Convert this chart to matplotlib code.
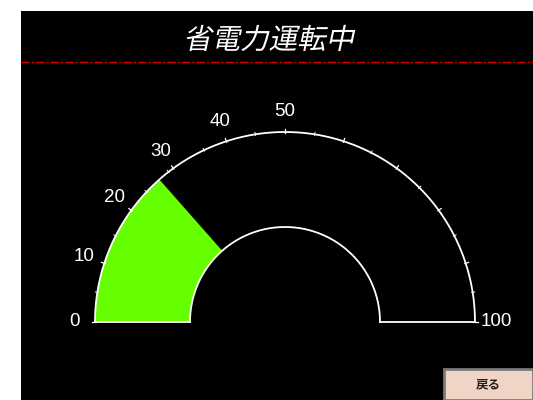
# 省電力運転中 gauge panel

import numpy as np
import matplotlib
matplotlib.use('Agg')
import matplotlib.pyplot as plt
from matplotlib.patches import Wedge, Rectangle, PathPatch
from matplotlib.textpath import TextPath
from matplotlib.font_manager import FontProperties
from matplotlib.transforms import Affine2D

plt.rcParams['font.family'] = ['Noto Sans CJK JP', 'DejaVu Sans']

title = '省電力運転中'
button_text = '戻る'
gauge_min = 0
gauge_max = 100
gauge_value = 27
label_values = [0, 10, 20, 30, 40, 50, 100]
major_ticks = [0, 10, 20, 30, 40, 50, 60, 70, 80, 90, 100]
minor_ticks = [5, 15, 24, 29, 36, 45, 55, 65, 75, 85, 95]

W, H = 533, 400
fig = plt.figure(figsize=(W / 100, H / 100), dpi=100)
fig.patch.set_facecolor('white')
ax = fig.add_axes([0, 0, 1, 1])
ax.set_xlim(0, W)
ax.set_ylim(0, H)
ax.axis('off')

# black panel
ax.add_patch(Rectangle((21, 0), W - 21, H - 11, facecolor='black', edgecolor='none'))

# title, slanted like the panel font
tp = TextPath((0, 0), title, size=28.5, prop=FontProperties(family='Noto Sans CJK JP'))
bb = tp.get_extents()
tr = Affine2D().translate(-(bb.x0 + bb.x1) / 2, -(bb.y0 + bb.y1) / 2).skew_deg(12, 0).translate(270, H - 38)
ax.add_patch(PathPatch(tr.transform_path(tp), facecolor='white', edgecolor='none'))

# red dashed rule
ax.plot([21, W], [H - 62, H - 62], color='#e00000', lw=1.0, ls=(0, (6, 1.5, 1.5, 1.5)))

cx, cy = 285, H - 322
r_out, r_in = 190, 95

def ang(v):
  return 180 - (v - gauge_min) / (gauge_max - gauge_min) * 180

# value fill
ax.add_patch(Wedge((cx, cy), r_out, ang(gauge_value), 180, width=r_out - r_in,
                   facecolor='#66ff00', edgecolor='none'))

# outline of the gauge
t = np.linspace(0, np.pi, 300)
ax.plot(cx + r_out * np.cos(t), cy + r_out * np.sin(t), color='white', lw=1.3)
ax.plot(cx + r_in * np.cos(t), cy + r_in * np.sin(t), color='white', lw=1.3)
ax.plot([cx - r_out, cx - r_in], [cy, cy], color='white', lw=1.3)
ax.plot([cx + r_in, cx + r_out], [cy, cy], color='white', lw=1.3)

# ticks
for v in major_ticks:
  a = np.radians(ang(v))
  ax.plot([cx + (r_out - 1) * np.cos(a), cx + (r_out + 3) * np.cos(a)],
          [cy + (r_out - 1) * np.sin(a), cy + (r_out + 3) * np.sin(a)], color='white', lw=0.9)
for v in minor_ticks:
  a = np.radians(ang(v))
  ax.plot([cx + (r_out - 1) * np.cos(a), cx + (r_out + 2) * np.cos(a)],
          [cy + (r_out - 1) * np.sin(a), cy + (r_out + 2) * np.sin(a)], color='white', lw=0.7)

# labels
r_lab = 211
for v in label_values:
  a = np.radians(ang(v))
  ax.text(cx + r_lab * np.cos(a), cy + r_lab * np.sin(a), str(v), color='white',
          fontsize=13.5, ha='center', va='center', family=['Liberation Sans'])

# back button
ax.add_patch(Rectangle((444, 0), W - 444, H - 369, facecolor='#f0d5c6', edgecolor='#7a7a7a', lw=2))
ax.text(488, H - 385, button_text, color='#202020', fontsize=9, fontweight='bold',
        ha='center', va='center')

fig.savefig('out.png', dpi=100, facecolor=fig.get_facecolor())
